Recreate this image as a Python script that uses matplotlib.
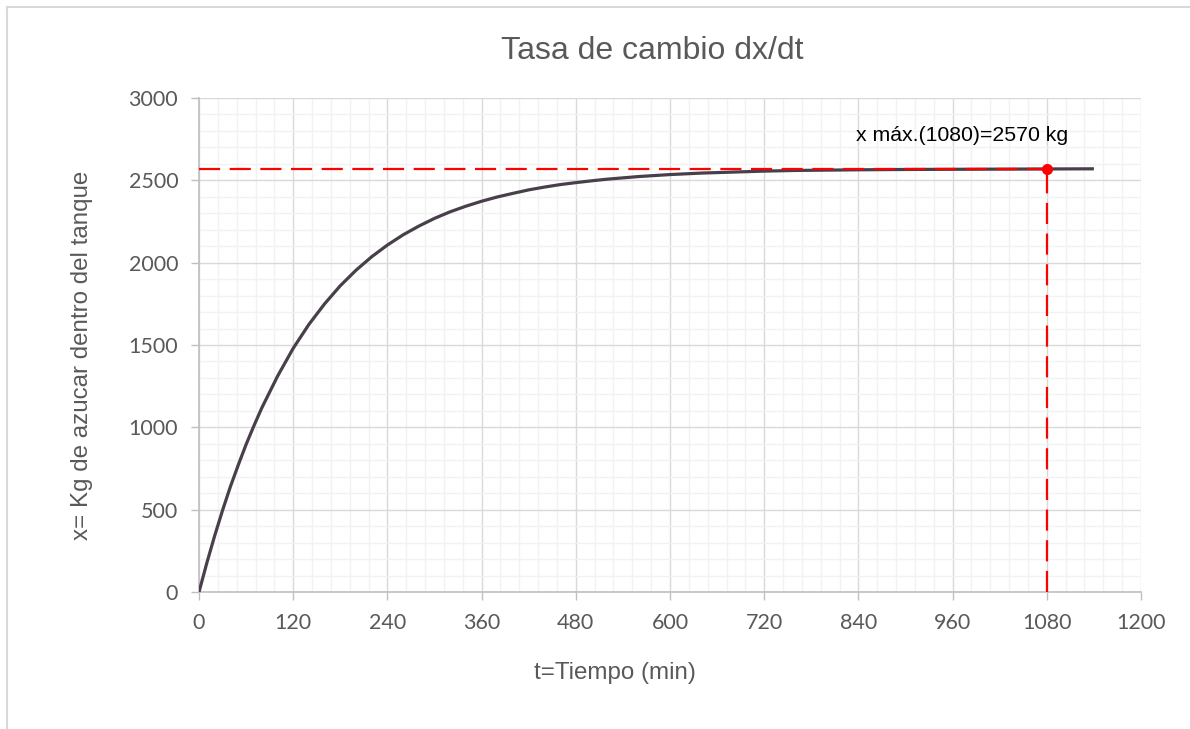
import matplotlib
matplotlib.use("Agg")
import matplotlib.pyplot as plt
from matplotlib.ticker import MultipleLocator
from matplotlib.lines import Line2D

# ---- data ----
t_min = [0, 10, 20, 30, 40, 50, 60, 70, 80, 100, 120, 140, 160, 180, 200, 220, 240,
         260, 280, 300, 320, 340, 360, 380, 400, 420, 440, 460, 480, 500, 520, 540,
         560, 580, 600, 640, 680, 720, 760, 800, 840, 900, 960, 1020, 1080, 1140]
x_kg = [0, 177, 342, 496, 640, 771, 896, 1010, 1118, 1310, 1480, 1625, 1750, 1860,
        1954, 2036, 2107, 2169, 2222, 2269, 2309, 2343, 2373, 2399, 2421, 2442, 2459,
        2474, 2486, 2497, 2507, 2515, 2523, 2529, 2535, 2544, 2550, 2556, 2560, 2562,
        2564, 2566, 2567, 2568, 2569, 2570]
t_max = 1080
x_max = 2570
x_ticks = [0, 120, 240, 360, 480, 600, 720, 840, 960, 1080, 1200]
y_ticks = [0, 500, 1000, 1500, 2000, 2500, 3000]

title = "Tasa de cambio dx/dt"
xlabel = "t=Tiempo (min)"
ylabel = "x= Kg de azucar dentro del tanque"
annot = "x máx.(1080)=2570 kg"

W, H = 1190, 729
fig = plt.figure(figsize=(W / 100, H / 100), dpi=100)
fig.patch.set_facecolor("white")

ax = fig.add_axes([199 / W, 1 - 592 / H, (1141 - 199) / W, (592 - 98) / H])
ax.set_xlim(0, 1200)
ax.set_ylim(0, 3000)
ax.set_xticks(x_ticks)
ax.set_yticks(y_ticks)
ax.xaxis.set_minor_locator(MultipleLocator(24))
ax.yaxis.set_minor_locator(MultipleLocator(100))

ax.grid(which="minor", color="#F2F2F2", linewidth=1.0, zorder=0)
ax.grid(which="major", color="#D9D9D9", linewidth=1.0, zorder=0)
ax.set_axisbelow(True)

for s in ["top", "right"]:
    ax.spines[s].set_visible(False)
for s in ["left", "bottom"]:
    ax.spines[s].set_color("#BFBFBF")
    ax.spines[s].set_linewidth(1.2)

ax.tick_params(which="major", direction="out", length=6, width=1.0, color="#BFBFBF",
               labelsize=15.5, labelcolor="#595959")
ax.tick_params(axis="y", pad=9)
ax.tick_params(axis="x", pad=9)
ax.tick_params(which="minor", length=0)
for lab in ax.get_xticklabels() + ax.get_yticklabels():
    lab.set_fontfamily("Lato")

ax.plot(t_min, x_kg, color="#483F4A", linewidth=2.3, solid_capstyle="butt", zorder=3)

ax.plot([0, t_max], [x_max, x_max], color="#FF0000", linewidth=1.6,
        dashes=(9.5, 4.3), zorder=4)
ax.plot([t_max, t_max], [0, x_max], color="#FF0000", linewidth=1.6,
        dashes=(9.5, 4.3), zorder=4)
ax.plot([t_max], [x_max], marker="o", markersize=7, color="#FF0000", zorder=5)

ax.text((962 - 199) / 942 * 1200, 2775, annot, ha="center", va="center",
        fontsize=15.3, color="black", family="Liberation Sans")

fig.text(652 / W, 1 - 51 / H, title, ha="center", va="center", fontsize=23,
         color="#595959", family="Liberation Sans")
fig.text(615 / W, 1 - 673 / H, xlabel, ha="center", va="center", fontsize=17.4,
         color="#595959", family="Liberation Sans")
fig.text(82 / W, 1 - 355 / H, ylabel, ha="center", va="center", rotation=90,
         fontsize=17.4, color="#595959", family="Liberation Sans")

# chart-area border (left and top edges visible)
fig.add_artist(Line2D([7 / W, 7 / W], [0, 1 - 7 / H], color="#D9D9D9", linewidth=1.5,
                      transform=fig.transFigure))
fig.add_artist(Line2D([7 / W, 1], [1 - 7 / H, 1 - 7 / H], color="#D9D9D9", linewidth=1.5,
                      transform=fig.transFigure))

fig.savefig("out.png", dpi=100)
